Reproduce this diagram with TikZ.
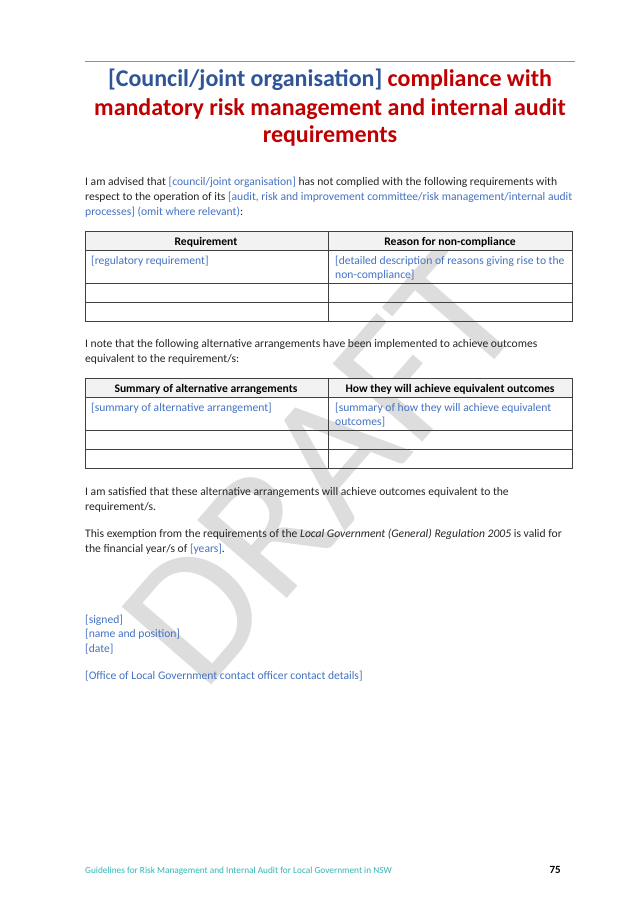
\documentclass[tikz,border=0pt]{standalone}
\usepackage{fontspec}
\setmainfont{Carlito}
\definecolor{tblue}{HTML}{2F5597}
\definecolor{pblue}{HTML}{4472C4}
\definecolor{tred}{HTML}{C00000}
\definecolor{teal}{HTML}{33B5B5}
\definecolor{wm}{HTML}{DDDDDD}
\definecolor{hdr}{HTML}{F2F2F2}
\definecolor{rule}{HTML}{E86A6A}
\definecolor{txt}{HTML}{262626}
\begin{document}
\begin{tikzpicture}[x=1pt,y=-1pt,
  body/.style={anchor=base west,inner sep=0pt,font=\fontsize{11.6}{15}\selectfont,text=txt},
  ph/.style={body,text=pblue},
  hd/.style={anchor=base,inner sep=0pt,font=\fontsize{11.6}{15}\selectfont\bfseries,text=black},
  grid/.style={draw=black!75,line width=0.8pt}]
\useasboundingbox (0,0) rectangle (638,900);
\fill[white] (0,0) rectangle (638,900);
% watermark
\node[rotate=49,text=wm,inner sep=0pt,font=\fontsize{185}{185}\selectfont] (wm) at (322,468) {DRAFT};
% rule
\draw[rule,line width=0.9pt] (85,61) -- (575,61);
% title
\begin{scope}[every node/.style={anchor=base,inner sep=0pt,font=\fontsize{24}{30}\selectfont\bfseries}]
\node (t1) at (330,86) {\textcolor{tblue}{[Council/joint organisation]} \textcolor{tred}{compliance with}};
\node[text=tred] (t2) at (330,115) {mandatory risk management and internal audit};
\node[text=tred] (t3) at (330,142) {requirements};
\end{scope}
% paragraph 1
\node[body] (p1) at (85,185) {I am advised that \textcolor{pblue}{[council/joint organisation]} has not complied with the following requirements with};
\node[body] (p2) at (85,200) {respect to the operation of its \textcolor{pblue}{[audit, risk and improvement committee/risk management/internal audit}};
\node[body] (p3) at (85,215) {\textcolor{pblue}{processes] (omit where relevant)}:};
% table 1
\fill[hdr] (85,231) rectangle (572,250);
\draw[grid] (85,231) rectangle (572,321);
\draw[grid] (85,250) -- (572,250) (85,283) -- (572,283) (85,302) -- (572,302) (328,231) -- (328,321);
\node[hd] (h1) at (206,245) {Requirement};
\node[hd] (h2) at (450,245) {Reason for non-compliance};
\node[ph] (c1) at (91,264) {[regulatory requirement]};
\node[ph] (c2) at (335,264) {[detailed description of reasons giving rise to the};
\node[ph] (c3) at (335,278) {non-compliance]};
% paragraph 2
\node[body] (q1) at (85,347) {I note that the following alternative arrangements have been implemented to achieve outcomes};
\node[body] (q2) at (85,362) {equivalent to the requirement/s:};
% table 2
\fill[hdr] (85,378) rectangle (572,397);
\draw[grid] (85,378) rectangle (572,468);
\draw[grid] (85,397) -- (572,397) (85,430) -- (572,430) (85,449) -- (572,449) (328,378) -- (328,468);
\node[hd] (k1) at (206,392) {Summary of alternative arrangements};
\node[hd] (k2) at (450,392) {How they will achieve equivalent outcomes};
\node[ph] (d1) at (91,411) {[summary of alternative arrangement]};
\node[ph] (d2) at (335,411) {[summary of how they will achieve equivalent};
\node[ph] (d3) at (335,425) {outcomes]};
% paragraphs
\node[body] (r1) at (85,495) {I am satisfied that these alternative arrangements will achieve outcomes equivalent to the};
\node[body] (r2) at (85,510) {requirement/s.};
\node[body] (s1) at (85,537) {This exemption from the requirements of the \textit{Local Government (General) Regulation 2005} is valid for};
\node[body] (s2) at (85,552) {the financial year/s of \textcolor{pblue}{[years]}.};
\node[ph] (g1) at (85,623) {[signed]};
\node[ph] (g2) at (85,637) {[name and position]};
\node[ph] (g3) at (85,652) {[date]};
\node[ph] (o1) at (85,679) {[Office of Local Government contact officer contact details]};
% footer
\node[anchor=base west,inner sep=0pt,font=\fontsize{9.3}{11}\selectfont,text=teal] (f1) at (85,873) {Guidelines for Risk Management and Internal Audit for Local Government in NSW};
\node[anchor=base east,inner sep=0pt,font=\fontsize{11}{13}\selectfont\bfseries] (f2) at (561,873) {75};
\end{tikzpicture}
\end{document}
